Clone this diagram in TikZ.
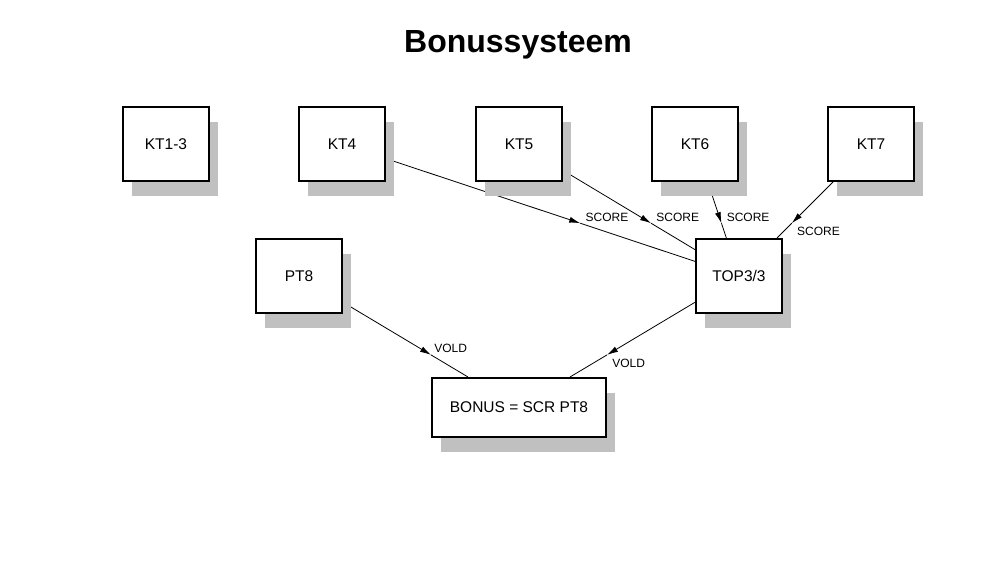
\documentclass[tikz,border=0pt]{standalone}
\usepackage{fontspec}
\setmainfont{Liberation Sans}
\usetikzlibrary{arrows.meta,calc,shadows,backgrounds}
\definecolor{shadowgray}{RGB}{192,192,192}
\tikzset{
  box/.style={draw, line width=2pt, fill=white, inner sep=0pt,
    minimum width=86pt, minimum height=74pt,
    font=\fontsize{15.5pt}{18pt}\selectfont,
    drop shadow={shadow xshift=9pt, shadow yshift=-15pt, fill=shadowgray, opacity=1}},
  flow/.style={line width=0.8pt, -{Latex[length=11pt,width=6pt]}},
  link/.style={line width=0.8pt},
  lbl/.style={font=\fontsize{12pt}{14pt}\selectfont, inner sep=0pt},
}
\begin{document}
\begin{tikzpicture}[x=1pt, y=-1pt]
    \useasboundingbox (0,0) rectangle (1000,572);
    \node[anchor=base, font=\fontsize{32pt}{36pt}\selectfont\bfseries] (title) at (518,53) {Bonussysteem};

    \node[box] (kt13) at (166,144) {KT1-3};
    \node[box] (kt4) at (342,144) {KT4};
    \node[box] (kt5) at (519,144) {KT5};
    \node[box] (kt6) at (695,144) {KT6};
    \node[box] (kt7) at (871,144) {KT7};
    \node[box] (pt8) at (299,276) {PT8};
    \node[box] (top) at (739,276) {TOP3/3};
    \node[box, minimum width=174pt, minimum height=59pt] (bonus) at (519,407.5) {BONUS = SCR PT8};

    \begin{scope}[on background layer]
    \coordinate (m4) at ($(kt4)!.6!(top)$);
    \draw[flow] (kt4) -- (m4) node[lbl, anchor=base west, xshift=5pt, yshift=1.5pt] {SCORE};
    \draw[link] (m4) -- (top);

    \coordinate (m5) at ($(kt5)!.6!(top)$);
    \draw[flow] (kt5) -- (m5) node[lbl, anchor=base west, xshift=5pt, yshift=1.5pt] {SCORE};
    \draw[link] (m5) -- (top);

    \coordinate (m6) at ($(kt6)!.6!(top)$);
    \draw[flow] (kt6) -- (m6) node[lbl, anchor=base west, xshift=5pt, yshift=1.5pt] {SCORE};
    \draw[link] (m6) -- (top);

    \coordinate (m7) at ($(kt7)!.6!(top)$);
    \draw[flow] (kt7) -- (m7) node[lbl, anchor=north west, xshift=5pt, yshift=-4pt] {SCORE};
    \draw[link] (m7) -- (top);

    \coordinate (mp) at ($(pt8)!.6!(bonus)$);
    \draw[flow] (pt8) -- (mp) node[lbl, anchor=base west, xshift=3pt, yshift=2pt] {VOLD};
    \draw[link] (mp) -- (bonus);

    \coordinate (mt) at ($(top)!.6!(bonus)$);
    \draw[flow] (top) -- (mt) node[lbl, anchor=north west, xshift=5pt, yshift=-4pt] {VOLD};
    \draw[link] (mt) -- (bonus);
    \end{scope}
\end{tikzpicture}
\end{document}
